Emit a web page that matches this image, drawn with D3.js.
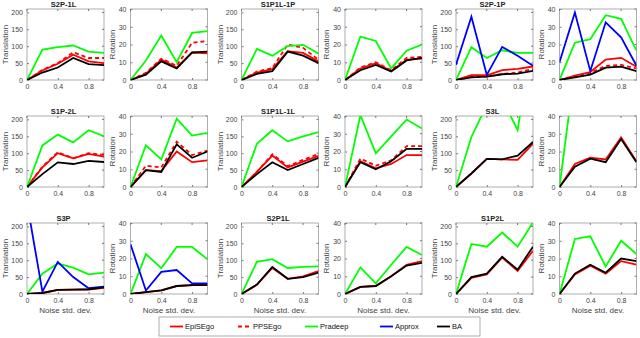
<!DOCTYPE html>
<html>
<head>
<meta charset="utf-8">
<script src="https://cdn.jsdelivr.net/npm/d3@7"></script>
<style>
  body { margin: 0; background: #fff; }
  svg { display: block; font-family: "Liberation Sans", Arial, sans-serif; }
</style>
</head>
<body>
<svg id="chart" width="640" height="338"></svg>
<script>
// data

var scenes = ["S2P-1L", "S1P1L-1P", "S2P-1P", "S1P-2L", "S1P1L-1L", "S3L", "S3P", "S2P1L", "S1P2L"];
var noise = [0, 0.2, 0.4, 0.6, 0.8, 1.0];
var xTicks = [0, 0.4, 0.8];
var transTicks = [0, 50, 100, 150, 200];
var rotTicks = [0, 10, 20, 30, 40];
var methods = ["EpiSEgo", "PPSEgo", "Pradeep", "Approx", "BA"];

// translation error, one row per scene (null = not drawn)
var epiT = [
  [0, 28, 48, 75, 55, 50],
  [0, 22, 32, 85, 80, 55],
  [0, 14, 14, 29, 33, 40],
  [0, 58, 100, 85, 98, 90],
  [0, 45, 93, 58, 75, 92],
  [0, 40, 83, 82, 80, 128],
  [0, 3, 12, 13, 13, 18],
  [0, 27, 77, 45, 52, 68],
  [0, 48, 58, 108, 68, 128]
];
var ppsT = [
  [0, 30, 50, 82, 65, 65],
  [0, 25, 35, 105, 95, 60],
  [0, 10, 10, 18, 22, 33],
  [0, 60, 103, 85, 100, 95],
  [0, 45, 97, 62, 80, 98],
  null, null, null, null
];
var pradeepT = [
  [0, 90, 97, 102, 84, 80],
  [0, 92, 72, 100, 104, 78],
  [0, 97, 65, 88, 80, 80],
  [0, 123, 155, 132, 168, 150],
  [0, 128, 168, 135, 150, 162],
  [0, 148, 243, 260, 168, 450],
  [0, 60, 90, 78, 58, 63],
  [0, 95, 103, 77, 80, 82],
  [0, 148, 140, 182, 140, 212]
];
var approxT = [
  null, null,
  [45, 187, 15, 98, 72, 42],
  null, null, null,
  [270, 7, 95, 50, 17, 22],
  null, null
];
var baT = [
  [0, 22, 37, 65, 47, 44],
  [0, 18, 26, 84, 72, 50],
  [0, 8, 10, 17, 19, 27],
  [0, 38, 73, 68, 77, 74],
  [0, 38, 73, 50, 68, 86],
  [0, 40, 83, 82, 93, 133],
  [0, 3, 12, 13, 14, 20],
  [0, 28, 80, 45, 50, 63],
  [0, 50, 60, 110, 72, 140]
];

// rotation error
var epiR = [
  [0, 3.5, 11.5, 7, 15.5, 15],
  [0, 6.5, 9.5, 5, 11.5, 12],
  [0, 2.5, 4.5, 11.5, 12.5, 7.5],
  [0, 9.5, 9, 20, 14, 15],
  [0, 14.5, 10.5, 13, 18, 18],
  [0, 13, 16.5, 15.5, 28, 14.5],
  [0, 1, 2, 4.5, 5, 5.5],
  [0, 4, 4.5, 10, 16.5, 18.5],
  [0, 11, 16, 11.5, 18.5, 16.5]
];
var ppsR = [
  [0, 4, 12, 8, 21, 22],
  [0, 7, 10, 5.5, 12.5, 13],
  [0, 2, 4, 8, 8.5, 6.5],
  [0, 12, 11, 25.5, 18, 20.5],
  [0, 16, 12, 15, 23, 23],
  null, null, null, null
];
var pradeepR = [
  [0, 11, 25, 10, 26.5, 27.5],
  [0, 24.5, 22, 6.5, 16.5, 20],
  [0, 21, 23, 36.5, 34.5, 16.5],
  [0, 23.5, 15.5, 38.5, 29, 30.5],
  [0, 40.5, 19, 28.5, 38, 33],
  [0, 67, null, null, null, null],
  [0, 22.5, 14.5, 26.5, 26.5, 19.5],
  [0, 15, 6, 16.5, 26.5, 22],
  [0, 31, 32.5, 15.5, 30, 22.5]
];
var approxR = [
  null, null,
  [10, 38, 5, 32.5, 24, 8],
  null, null, null,
  [28, 2, 12.5, 13.5, 6, 6],
  null, null
];
var baR = [
  [0, 3, 10.5, 6.5, 15.5, 16],
  [0, 5.5, 8.5, 4.8, 11, 12.5],
  [0, 1.5, 3, 7, 7.5, 5],
  [0, 9.5, 8.5, 24, 16.5, 20],
  [0, 14, 10, 14.5, 21.5, 21.5],
  [0, 11.5, 16, 14, 27, 14],
  [0, 1, 2, 4.5, 5, 5],
  [0, 4, 4.5, 10, 16, 17.5],
  [0, 11.5, 16.5, 12, 20, 18.5]
];

// styles

var colors = { EpiSEgo: "#ff0000", PPSEgo: "#ff0000", Pradeep: "#00ff00", Approx: "#0000ff", BA: "#000000" };
var dashes = { PPSEgo: "4,3" };

// layout

var pw = 77, ph = 71;
var colX = [27, 241.5, 456];
var rotOff = 103.5;
var rowY = [9, 116, 223];

var svg = d3.select("#chart");
var defs = svg.append("defs");

function panel(k, kind) {
  var r = Math.floor(k / 3), c = k % 3;
  var left = colX[c] + (kind == "rot" ? rotOff : 0);
  var top = rowY[r];
  var x = d3.scaleLinear().domain([0, 1]).range([0, pw]);
  var y = kind == "rot"
    ? d3.scaleLinear().domain([0, 40]).range([ph, 0])
    : d3.scaleLinear().domain([0, 210]).range([ph, 0]);

  var g = svg.append("g").attr("transform", "translate(" + left + "," + top + ")");
  var id = "clip" + k + kind;
  defs.append("clipPath").attr("id", id).append("rect").attr("width", pw).attr("height", ph);

  // axes (ticks inward like matlab)
  var ax = g.append("g").attr("transform", "translate(0," + ph + ")")
    .call(d3.axisBottom(x).tickValues(xTicks).tickSize(-2).tickPadding(4).tickFormat(d3.format("")));
  var ay = g.append("g")
    .call(d3.axisLeft(y).tickValues(kind == "rot" ? rotTicks : transTicks).tickSize(-2).tickPadding(4));
  [ax, ay].forEach(function(a) {
    a.select(".domain").remove();
    a.selectAll("line").attr("stroke", "#777");
    a.selectAll("text").attr("fill", "#444").style("font-size", "7px");
  });
  g.append("rect").attr("width", pw).attr("height", ph)
    .attr("fill", "none").attr("stroke", "#999").attr("stroke-width", 0.8);

  // top and right ticks
  g.selectAll(".tt").data(xTicks).enter().append("line")
    .attr("x1", function(d){return x(d)}).attr("x2", function(d){return x(d)})
    .attr("y1", 0).attr("y2", 2).attr("stroke", "#777");
  g.selectAll(".rt").data(kind == "rot" ? rotTicks : transTicks).enter().append("line")
    .attr("x1", pw).attr("x2", pw - 2)
    .attr("y1", function(d){return y(d)}).attr("y2", function(d){return y(d)}).attr("stroke", "#777");

  g.append("text")
    .attr("transform", "translate(" + (kind == "rot" ? -16 : -19) + "," + (ph / 2) + ")rotate(-90)")
    .attr("text-anchor", "middle").attr("fill", "#444").style("font-size", "8px")
    .text(kind == "rot" ? "Rotation" : "Translation");

  if (r == 2) {
    g.append("text").attr("x", pw / 2).attr("y", ph + 19)
      .attr("text-anchor", "middle").attr("fill", "#444").style("font-size", "8px")
      .text("Noise std. dev.");
  }

  var series = kind == "rot"
    ? [epiR[k], ppsR[k], pradeepR[k], approxR[k], baR[k]]
    : [epiT[k], ppsT[k], pradeepT[k], approxT[k], baT[k]];

  var line = d3.line()
    .defined(function(d){return d != null})
    .x(function(d, i){return x(noise[i])})
    .y(function(d){return y(d)});

  var lg = g.append("g").attr("clip-path", "url(#" + id + ")");
  series.forEach(function(s, i) {
    if (!s) return;
    lg.append("path").datum(s).attr("d", line)
      .attr("fill", "none").attr("stroke", colors[methods[i]])
      .attr("stroke-width", 1.8)
      .attr("stroke-dasharray", dashes[methods[i]] || null)
      .attr("stroke-linejoin", "miter");
  });
  return g;
}

scenes.forEach(function(name, k) {
  var g = panel(k, "trans");
  panel(k, "rot");
  g.append("text").attr("x", pw / 2 - 2).attr("y", -2)
    .attr("text-anchor", "middle").attr("fill", "#222")
    .style("font-size", "7.5px").style("font-weight", "bold")
    .text(name);
});

// legend

var legend = svg.append("g").attr("transform", "translate(159,317)");
legend.append("rect").attr("width", 321).attr("height", 19)
  .attr("fill", "#fff").attr("stroke", "#999").attr("stroke-width", 0.8);
var legX = [11, 79, 146, 221, 278];
methods.forEach(function(m, i) {
  var e = legend.append("g").attr("transform", "translate(" + legX[i] + ",9.5)");
  e.append("line").attr("x1", 0).attr("x2", 13).attr("y1", 0).attr("y2", 0)
    .attr("stroke", colors[m]).attr("stroke-width", 1.8)
    .attr("stroke-dasharray", dashes[m] || null);
  e.append("text").attr("x", 15).attr("y", 2.8)
    .attr("fill", "#111").style("font-size", "7.5px").text(m);
});
</script>
</body>
</html>
